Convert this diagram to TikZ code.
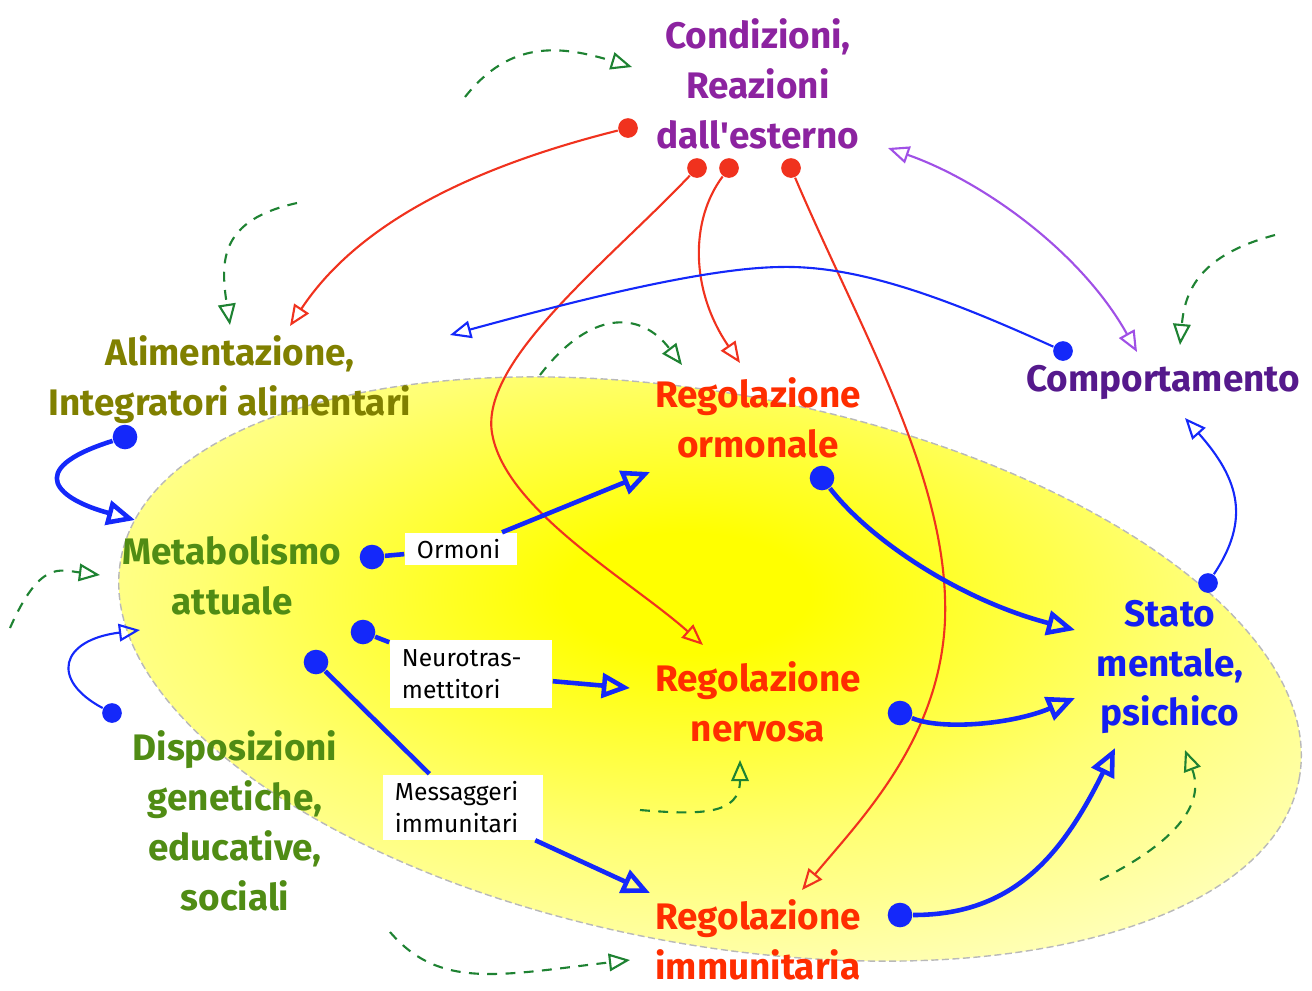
\documentclass[tikz,border=0pt]{standalone}
\usepackage{fontspec}
\setmainfont{Fira Sans}
\usepackage{tikz}
\usetikzlibrary{arrows.meta}

\definecolor{condcol}{RGB}{140,35,160}
\definecolor{compcol}{RGB}{85,25,140}
\definecolor{alimcol}{RGB}{128,128,0}
\definecolor{metacol}{RGB}{80,140,20}
\definecolor{regcol}{RGB}{255,45,0}
\definecolor{statocol}{RGB}{20,30,240}
\definecolor{rosso}{RGB}{240,50,30}
\definecolor{blu}{RGB}{20,40,250}
\definecolor{verde}{RGB}{30,130,50}
\definecolor{viola}{RGB}{160,80,230}
\colorlet{glowmid}{yellow!55}
\colorlet{glowpale}{yellow!20}
\colorlet{glowout}{yellow!6}
\pgfdeclareradialshading{glow}{\pgfpoint{-1bp}{4bp}}{color(0bp)=(yellow); color(5bp)=(yellow); color(20bp)=(glowmid); color(36bp)=(glowpale); color(50bp)=(glowout); color(100bp)=(glowout)}

\begin{document}
\begin{tikzpicture}[x=0.01cm,y=-0.01cm]
  \tikzset{lbl/.style = {font=\bfseries\fontsize{10.5}{14.2}\selectfont,align=center,inner sep=0pt}}
  \tikzset{msg/.style = {fill=white,font=\fontsize{7}{9.2}\selectfont,align=left,inner sep=0pt,text width=#1}}
  \tikzset{dot/.style = {circle,fill=blu,inner sep=0pt,minimum size=7pt}}
  \tikzset{sdot/.style = {circle,fill=#1,inner sep=0pt,minimum size=5.6pt}}
  \tikzset{bigedge/.style = {line width=1.3pt,draw=blu,-{Triangle[open,length=8pt,width=7pt]}}}
  \tikzset{edge/.style = {line width=0.6pt,draw=#1,-{Triangle[open,length=6pt,width=5pt]}}}
  \tikzset{cycle/.style = {edge=verde,dash pattern=on 2.8pt off 2.4pt}}

  \useasboundingbox (0,0) rectangle (1312,990);
  \shade[shading=glow,draw=gray!55,line width=0.4pt,dash pattern=on 2pt off 1pt,
    rotate around={-10.6:(710,669)}] (710,669) ellipse [x radius=5.99cm,y radius=2.75cm];

	\node[lbl,text=condcol] (cond) at (758,84) {Condizioni,\\Reazioni\\dall\textquotesingle esterno};
	\node[lbl,text=alimcol] (alim) at (230,380) {Alimentazione,\\Integratori alimentari};
	\node[lbl,text=metacol] (meta) at (232,575) {Metabolismo\\attuale};
	\node[lbl,text=metacol] (disp) at (235,821) {Disposizioni\\genetiche,\\educative,\\sociali};
	\node[lbl,text=regcol] (rego) at (758,418) {Regolazione\\ormonale};
	\node[lbl,text=regcol] (regn) at (758,702) {Regolazione\\nervosa};
	\node[lbl,text=regcol] (regi) at (758,940) {Regolazione\\immunitaria};
	\node[lbl,text=compcol] (comp) at (1163,382) {Comportamento};
	\node[lbl,text=statocol] (stato) at (1170,667) {Stato\\mentale,\\psichico};

	\node[msg=0.88cm,minimum width=1.12cm,minimum height=0.32cm] (ormoni) at (461,549) {Ormoni};
	\node[msg=1.38cm,minimum width=1.62cm,minimum height=0.68cm] (neuro) at (471,674) {Neurotras-\\mettitori};
	\node[msg=1.36cm,minimum width=1.60cm,minimum height=0.65cm] (mess) at (463,807) {Messaggeri\\immunitari};

	% punti di partenza
	\node[sdot=rosso] (r1) at (628,128) {};
	\node[sdot=rosso] (r2) at (697,168) {};
	\node[sdot=rosso] (r3) at (729,168) {};
	\node[sdot=rosso] (r4) at (791,168) {};
	\node[dot] (b1) at (125,437) {};
	\node[dot] (b2) at (372,557) {};
	\node[dot] (b3) at (363,632) {};
	\node[dot] (b4) at (316,662) {};
	\node[dot] (b5) at (822,478) {};
	\node[dot] (b6) at (900,713) {};
	\node[dot] (b7) at (900,915) {};
	\node[sdot=blu] (t1) at (112,713) {};
	\node[sdot=blu] (t2) at (1208,583) {};
	\node[sdot=blu] (t3) at (1063,351) {};

	% punte delle frecce
	\coordinate (aAlim) at (290,326);
	\coordinate (aNerv) at (703,645);
	\coordinate (aOrm) at (740,363);
	\coordinate (aImm) at (802,890);
	\coordinate (aMeta) at (135,520);
	\coordinate (aOrm2) at (650,472);
	\coordinate (aNerv2) at (630,688);
	\coordinate (aImm2) at (650,893);
	\coordinate (aSt1) at (1075,630);
	\coordinate (aSt2) at (1075,698);
	\coordinate (aSt3) at (1115,748);
	\coordinate (aMeta2) at (140,630);
	\coordinate (aComp) at (1185,418);
	\coordinate (aAlim2) at (450,335);
	\coordinate (pCond) at (888,148);
	\coordinate (pComp) at (1137,352);

	\coordinate (g1) at (465,97);   \coordinate (h1) at (632,67);
	\coordinate (g2) at (297,203);  \coordinate (h2) at (230,325);
	\coordinate (g3) at (540,375);  \coordinate (h3) at (682,365);
	\coordinate (g4) at (1275,235); \coordinate (h4) at (1180,345);
	\coordinate (g5) at (10,628);   \coordinate (h5) at (100,575);
	\coordinate (g6) at (640,810);  \coordinate (h6) at (740,760);
	\coordinate (g7) at (1100,880); \coordinate (h7) at (1185,750);
	\coordinate (g8) at (390,932);  \coordinate (h8) at (630,960);

	\draw[edge=rosso] (r1) .. controls (480,165) and (360,220) .. (aAlim);
	\draw[edge=rosso] (r2) .. controls (610,260) and (480,360) .. (492,433)
	  .. controls (505,510) and (630,580) .. (aNerv);
	\draw[edge=rosso] (r3) .. controls (690,220) and (690,290) .. (aOrm);
	\draw[edge=rosso] (r4) .. controls (860,330) and (950,480) .. (945,620)
	  .. controls (940,740) and (860,820) .. (aImm);

	\draw[edge=blu] (t3) .. controls (950,300) and (860,265) .. (780,267)
	  .. controls (700,268) and (560,305) .. (aAlim2);
	\draw[edge=viola,{Triangle[open,length=6pt,width=5pt]}-{Triangle[open,length=6pt,width=5pt]}]
	  (pCond) .. controls (980,180) and (1080,250) .. (pComp);
	\draw[edge=blu] (t1) .. controls (50,680) and (60,640) .. (aMeta2);
	\draw[edge=blu] (t2) .. controls (1250,520) and (1240,480) .. (aComp);

	\draw[bigedge] (b1) .. controls (20,470) and (60,500) .. (aMeta);
	\draw[bigedge] (b5) .. controls (870,540) and (960,600) .. (aSt1);
	\draw[bigedge] (b6) .. controls (940,730) and (1010,725) .. (aSt2);
	\draw[bigedge] (b7) .. controls (1010,915) and (1060,860) .. (aSt3);
	\foreach \from/\via/\to in {b2/ormoni/aOrm2, b3/neuro/aNerv2, b4/mess/aImm2}{
	  \draw[line width=1.3pt,blu] (\from) -- (\via);
	  \draw[bigedge] (\via) -- (\to);
	}

	\draw[cycle] (g1) .. controls (510,40) and (560,45) .. (h1);
	\draw[cycle] (g2) .. controls (220,220) and (220,260) .. (h2);
	\draw[cycle] (g3) .. controls (590,310) and (640,310) .. (h3);
	\draw[cycle] (g4) .. controls (1200,255) and (1185,290) .. (h4);
	\draw[cycle] (g5) .. controls (40,560) and (60,570) .. (h5);
	\draw[cycle] (g6) .. controls (700,815) and (740,815) .. (h6);
	\draw[cycle] (g7) .. controls (1200,830) and (1200,790) .. (h7);
	\draw[cycle] (g8) .. controls (440,990) and (500,975) .. (h8);
\end{tikzpicture}
\end{document}
